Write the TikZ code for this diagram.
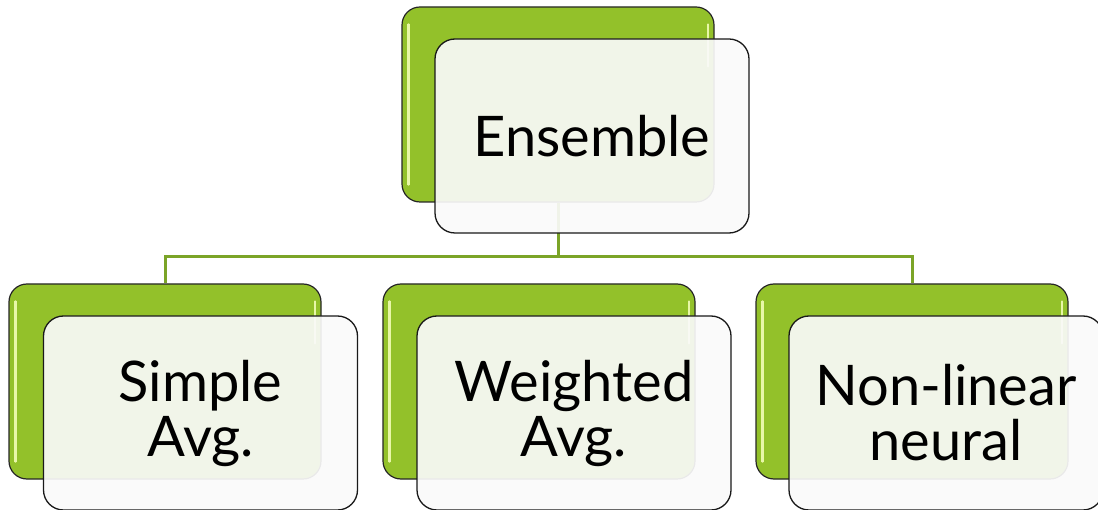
\documentclass[tikz,border=0pt]{standalone}
\usepackage{fontspec}
\setmainfont{Lato}
\definecolor{leaf}{HTML}{93C12A}
\definecolor{leafline}{HTML}{7BA428}
\definecolor{leafglow}{HTML}{E8F7A8}
\definecolor{paper}{HTML}{FAFAFA}
\tikzset{
  backcard/.style={draw=black!85, line width=1.2pt, fill=leaf,
    rounded corners=18pt, minimum width=312pt, minimum height=195pt, inner sep=0pt},
  frontcard/.style={draw=black!90, line width=1.3pt, fill=paper, fill opacity=0.92,
    text opacity=1, rounded corners=20pt, minimum width=314pt, minimum height=194pt,
    inner sep=0pt, align=center, font=\fontsize{56}{55}\selectfont},
  glow/.style={leafglow, line width=2.2pt, line cap=round},
  branch/.style={leafline, line width=3pt}
}
\begin{document}
\begin{tikzpicture}[x=1pt,y=-1pt]
  \useasboundingbox (0,0) rectangle (1098,510);

  % back (green) cards
  \node[backcard] (gA) at (558,104.5) {};
  \node[backcard] (gB) at (165,381.5) {};
  \node[backcard] (gC) at (539,381.5) {};
  \node[backcard] (gD) at (912,381.5) {};

  % bright edge highlights on the green cards
  \foreach \g in {gA,gB,gC,gD}{
    \draw[glow] ([xshift=7pt,yshift=-18pt]\g.north west) -- ([xshift=7pt,yshift=18pt]\g.south west);
    \draw[glow] ([xshift=-7pt,yshift=-18pt]\g.north east) -- ([xshift=-7pt,yshift=-60pt]\g.north east);
  }

  % connectors from the root to the leaves
  \coordinate (bus) at (0,257);
  \draw[branch] (gA.south) -- (gA.south |- bus) -| (gB.north);
  \draw[branch] (gA.south |- bus) -| (gD.north);

  % front (text) cards
  \node[frontcard] (tA) at (592,136) {Ensemble};
  \node[frontcard] (tB) at (200.5,413) {Simple\\Avg.};
  \node[frontcard] (tC) at (574,413) {Weighted\\Avg.};
  \node[frontcard] (tD) at (946,413) {Non-linear\\neural};
\end{tikzpicture}
\end{document}
